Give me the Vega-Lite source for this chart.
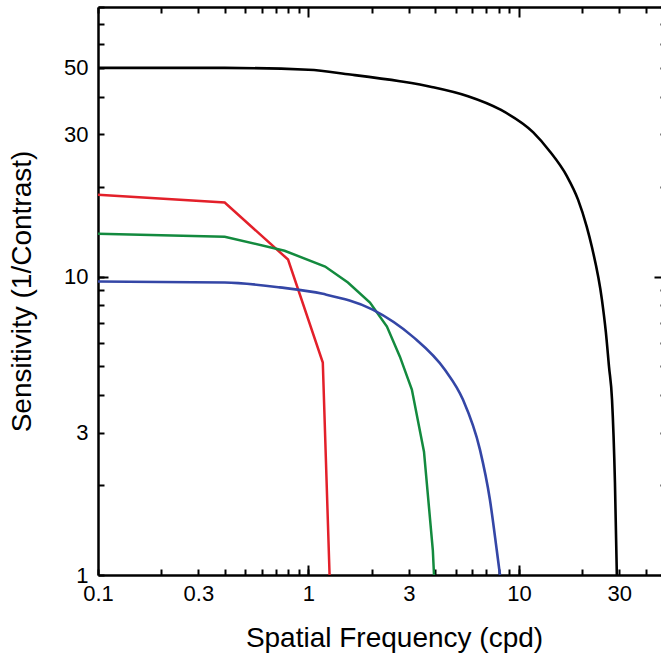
{
  "$schema": "https://vega.github.io/schema/vega-lite/v6.json",
  "autosize": "none",
  "padding": {"left": 98, "top": 7, "right": 0, "bottom": 80},
  "width": 568,
  "height": 568,
  "config": {
    "view": {"stroke": null},
    "font": "Liberation Sans",
    "axis": {
      "labelFont": "Liberation Sans",
      "titleFont": "Liberation Sans",
      "labelFontSize": 22,
      "titleFontSize": 28,
      "titleFontWeight": "normal",
      "labelColor": "black",
      "titleColor": "black",
      "domainColor": "black",
      "domainWidth": 2.5,
      "tickColor": "black",
      "tickWidth": 2,
      "labelFlush": false,
      "grid": false
    }
  },
  "data": {
    "values": [
      {"series": "black", "f": 0.1, "s": 50},
      {"series": "black", "f": 0.4, "s": 50},
      {"series": "black", "f": 1.0, "s": 49.3},
      {"series": "black", "f": 1.58, "s": 47.5},
      {"series": "black", "f": 2.72, "s": 45.1},
      {"series": "black", "f": 3.9, "s": 43.1},
      {"series": "black", "f": 5.73, "s": 40.2},
      {"series": "black", "f": 8.13, "s": 36.3},
      {"series": "black", "f": 11.7, "s": 30.4},
      {"series": "black", "f": 14.0, "s": 26.3},
      {"series": "black", "f": 16.9, "s": 21.7},
      {"series": "black", "f": 19.1, "s": 18.1},
      {"series": "black", "f": 21.0, "s": 14.7},
      {"series": "black", "f": 22.2, "s": 12.6},
      {"series": "black", "f": 24.8, "s": 8.37},
      {"series": "black", "f": 25.9, "s": 6.5},
      {"series": "black", "f": 26.8, "s": 4.99},
      {"series": "black", "f": 27.7, "s": 3.87},
      {"series": "black", "f": 28.6, "s": 2.04},
      {"series": "black", "f": 29.2, "s": 1.0},
      {"series": "red", "f": 0.1, "s": 18.8},
      {"series": "red", "f": 0.4, "s": 17.7},
      {"series": "red", "f": 0.8, "s": 11.4},
      {"series": "red", "f": 1.17, "s": 5.15},
      {"series": "red", "f": 1.26, "s": 1.0},
      {"series": "green", "f": 0.1, "s": 13.9},
      {"series": "green", "f": 0.4, "s": 13.6},
      {"series": "green", "f": 0.77, "s": 12.2},
      {"series": "green", "f": 1.2, "s": 10.8},
      {"series": "green", "f": 1.54, "s": 9.55},
      {"series": "green", "f": 1.96, "s": 8.18},
      {"series": "green", "f": 2.36, "s": 6.8},
      {"series": "green", "f": 2.72, "s": 5.39},
      {"series": "green", "f": 3.1, "s": 4.18},
      {"series": "green", "f": 3.54, "s": 2.59},
      {"series": "green", "f": 3.9, "s": 1.21},
      {"series": "green", "f": 3.95, "s": 1.0},
      {"series": "blue", "f": 0.1, "s": 9.62},
      {"series": "blue", "f": 0.4, "s": 9.55},
      {"series": "blue", "f": 0.73, "s": 9.2},
      {"series": "blue", "f": 1.17, "s": 8.75},
      {"series": "blue", "f": 2.02, "s": 7.75},
      {"series": "blue", "f": 3.13, "s": 6.29},
      {"series": "blue", "f": 4.45, "s": 4.87},
      {"series": "blue", "f": 5.42, "s": 3.87},
      {"series": "blue", "f": 6.53, "s": 2.63},
      {"series": "blue", "f": 7.28, "s": 1.79},
      {"series": "blue", "f": 7.85, "s": 1.21},
      {"series": "blue", "f": 8.13, "s": 1.0}
    ]
  },
  "resolve": {"axis": {"x": "independent", "y": "independent"}},
  "layer": [
    {
      "transform": [{"filter": "datum.series == 'red' || datum.series == 'green'"}],
      "mark": {"type": "line", "strokeWidth": 2.5, "strokeJoin": "miter"},
      "encoding": {
        "x": {
          "field": "f", "type": "quantitative",
          "scale": {"type": "log", "domain": [0.1, 50], "nice": false},
          "axis": {
            "orient": "bottom",
            "title": "Spatial Frequency (cpd)",
            "titleX": 296,
            "values": [0.1,0.2,0.3,0.4,0.5,0.6,0.7,0.8,0.9,1,2,3,4,5,6,7,8,9,10,20,30,40,50],
            "labelExpr": "indexof([0.1,0.3,1,3,10,30], datum.value) >= 0 ? toString(datum.value) : ''",
            "tickSize": -6,
            "labelPadding": 14,
            "titlePadding": 20
          }
        },
        "y": {
          "field": "s", "type": "quantitative",
          "scale": {"type": "log", "domain": [1, 80], "nice": false},
          "axis": {
            "orient": "left",
            "title": "Sensitivity (1/Contrast)",
            "values": [1,2,3,4,5,6,7,8,9,10,20,30,40,50,60,70,80],
            "labelExpr": "indexof([1,3,10,30,50], datum.value) >= 0 ? toString(datum.value) : ''",
            "tickSize": -6,
            "labelPadding": 16,
            "titlePadding": 27
          }
        },
        "color": {
          "field": "series", "type": "nominal",
          "scale": {"domain": ["black", "red", "green", "blue"], "range": ["#000000", "#e3202a", "#138a3e", "#3446a6"]},
          "legend": null
        }
      }
    },
    {
      "transform": [{"filter": "datum.series == 'black' || datum.series == 'blue'"}],
      "mark": {"type": "line", "strokeWidth": 2.6, "interpolate": "monotone"},
      "encoding": {
        "x": {
          "field": "f", "type": "quantitative",
          "scale": {"type": "log", "domain": [0.1, 50], "nice": false},
          "axis": {
            "orient": "top",
            "title": null,
            "values": [0.1,0.2,0.3,0.4,0.5,0.6,0.7,0.8,0.9,1,2,3,4,5,6,7,8,9,10,20,30,40,50],
            "labels": false,
            "tickSize": {"condition": {"test": "datum.value == 1 || datum.value == 10", "value": -10}, "value": -6}
          }
        },
        "y": {
          "field": "s", "type": "quantitative",
          "scale": {"type": "log", "domain": [1, 80], "nice": false},
          "axis": {
            "orient": "right",
            "title": null,
            "values": [1,2,3,4,5,6,7,8,9,10,20,30,40,50,60,70,80],
            "labels": false,
            "tickSize": {"condition": {"test": "datum.value == 10", "value": -12}, "value": -6}
          }
        },
        "color": {
          "field": "series", "type": "nominal",
          "scale": {"domain": ["black", "red", "green", "blue"], "range": ["#000000", "#e3202a", "#138a3e", "#3446a6"]},
          "legend": null
        }
      }
    },
    {
      "mark": {"type": "line", "strokeOpacity": 0},
      "encoding": {
        "x": {
          "field": "f", "type": "quantitative",
          "scale": {"type": "log", "domain": [0.1, 50], "nice": false},
          "axis": {
            "orient": "bottom",
            "title": null,
            "values": [1, 10],
            "labels": false,
            "domain": false,
            "tickSize": -10
          }
        },
        "y": {
          "field": "s", "type": "quantitative",
          "scale": {"type": "log", "domain": [1, 80], "nice": false},
          "axis": {
            "orient": "left",
            "title": null,
            "values": [10],
            "labels": false,
            "domain": false,
            "tickSize": -10
          }
        },
        "detail": {"field": "series", "type": "nominal"}
      }
    }
  ]
}
